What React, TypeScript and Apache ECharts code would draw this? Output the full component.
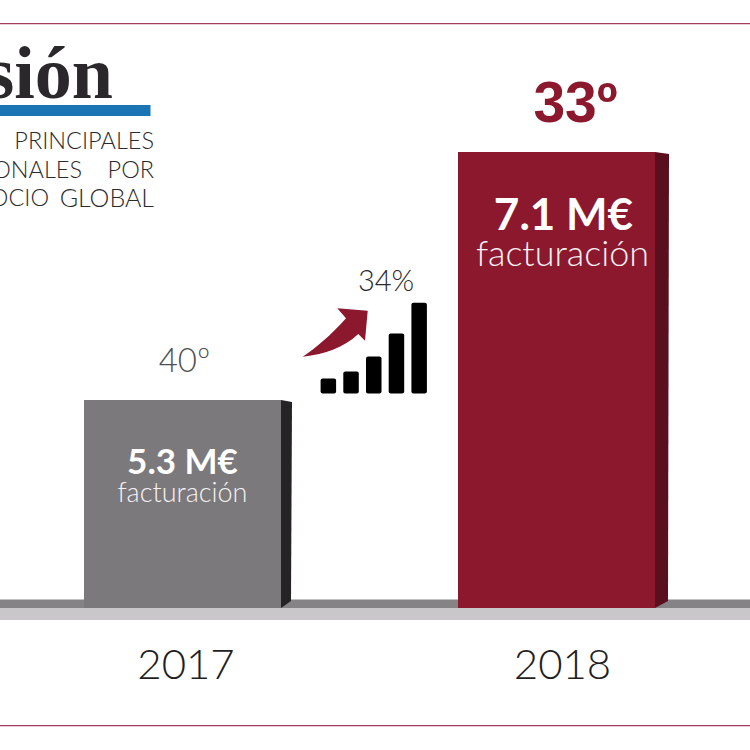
import React, { useEffect, useRef } from "react";
import * as echarts from "echarts";

const years = ["2017", "2018"];
const revenue = [5.3, 7.1];
const revenueLabels = ["5.3 M€", "7.1 M€"];
const captionLabels = ["facturación", "facturación"];
const rankLabels = ["40º", "33º"];
const growthLabel = "34%";
const iconCategories = ["a", "b", "c", "d", "e"];
const iconValues = [15, 22, 37, 60, 91];

const FRONT = ["#7b797c", "#8c182e"];
const SIDE = ["#262326", "#5a0f1e"];
const SIDE_W = [11, 14];
const YEAR_PAD = [7, 12];
const RANK_STYLE = [
  { dx: 2, y: 359, size: 33, weight: 300, color: "#4f4f52", font: "Lato" },
  { dx: 19, y: 102, size: 57, weight: 700, color: "#8c182e", font: "Liberation Sans" },
];
const VALUE_STYLE = [
  { dx: 0, dy: 60, size: 35 },
  { dx: 7, dy: 61, size: 44 },
];
const CAPTION_STYLE = [
  { dx: 0, dy: 92, size: 27 },
  { dx: 6, dy: 100, size: 36 },
];
const ARROW =
  "M367.7 310.7 L337.3 308.3 L346 318.3 C330 336 316 348 302.7 356.7 C326 354 343 348 358.3 334 L365 340.7 Z";

export default function App() {
  const ref = useRef<HTMLDivElement>(null);
  useEffect(() => {
    echarts.graphic.registerShape("growthArrow", echarts.graphic.extendPath(ARROW, {}) as any);
    const chart = echarts.init(ref.current!, null, { renderer: "svg" });
    const txt = (x: number, y: number, text: string, size: number, align: string, color = "#2b2a2c", font = "Lato", weight: number = 300, extra: any = {}) => ({
      type: "text",
      x,
      y,
      silent: true,
      style: { text, fill: color, font: `${weight} ${size}px ${font}`, textAlign: align, textVerticalAlign: "middle", ...extra },
    });
    chart.setOption({
      animation: false,
      backgroundColor: "#ffffff",
      grid: [
        { left: 182.5, width: 374, top: 152, height: 456, outerBoundsMode: "none" },
        { left: 317, width: 113.5, top: 302.7, height: 90.7, outerBoundsMode: "none" },
      ],
      xAxis: [
        {
          type: "category",
          gridIndex: 0,
          boundaryGap: false,
          data: years.map((y, i) => ({ value: y, textStyle: { padding: [0, 0, 0, YEAR_PAD[i]] } })),
          axisLine: { show: false },
          axisTick: { show: false },
          axisLabel: { fontFamily: "Lato", fontWeight: 300, fontSize: 42, color: "#1f1e20", margin: 34, lineHeight: 42 },
        },
        { type: "category", gridIndex: 1, data: iconCategories, show: false },
      ],
      yAxis: [
        { type: "value", gridIndex: 0, min: 3.79, max: 7.1, show: false },
        { type: "value", gridIndex: 1, min: 0, max: 91, show: false },
      ],
      series: [
        {
          type: "bar",
          xAxisIndex: 0,
          yAxisIndex: 0,
          data: revenue.map((v, i) => ({ value: v, itemStyle: { color: FRONT[i] } })),
          barWidth: 197,
          silent: true,
          z: 3,
        },
        {
          type: "custom",
          xAxisIndex: 0,
          yAxisIndex: 0,
          data: revenue.map((v, i) => [i, v]),
          z: 4,
          silent: true,
          clip: false,
          renderItem: (params: any, api: any) => {
            const i = params.dataIndex;
            const p = api.coord([api.value(0), api.value(1)]);
            const base = api.coord([api.value(0), 3.79]);
            const cx = p[0];
            const r = cx + 98.5;
            const w = SIDE_W[i];
            const top = p[1];
            const bottom = base[1];
            const rs = RANK_STYLE[i];
            const vs = VALUE_STYLE[i];
            const cs = CAPTION_STYLE[i];
            const t = (x: number, y: number, text: string, size: number, weight: number, color: string, font: string) => ({
              type: "text",
              x,
              y,
              style: { text, fill: color, font: `${weight} ${size}px ${font}`, textAlign: "center", textVerticalAlign: "middle" },
            });
            return {
              type: "group",
              children: [
                {
                  type: "polygon",
                  shape: { points: [[r, top], [r + w, top + 2], [r + w - 1, bottom - 7], [r, bottom]] },
                  style: { fill: SIDE[i] },
                },
                t(cx + rs.dx, rs.y, rankLabels[i], rs.size, rs.weight, rs.color, rs.font),
                t(cx + vs.dx, top + vs.dy, revenueLabels[i], vs.size, 700, "#ffffff", "Lato"),
                t(cx + cs.dx, top + cs.dy, captionLabels[i], cs.size, 300, "#f6f2f3", "Lato"),
              ],
            };
          },
        },
        {
          type: "bar",
          xAxisIndex: 1,
          yAxisIndex: 1,
          data: iconValues,
          barWidth: 15.5,
          silent: true,
          itemStyle: { color: "#000000", borderRadius: 2 },
        },
      ],
      graphic: [
        { type: "rect", z: 0, shape: { x: 0, y: 23, width: 750, height: 1.2 }, style: { fill: "#a23a5e" } },
        { type: "rect", z: 0, shape: { x: 0, y: 725, width: 750, height: 1.2 }, style: { fill: "#a23a5e" } },
        { type: "rect", z: 0, shape: { x: 0, y: 599.5, width: 750, height: 8.5 }, style: { fill: "#858385" } },
        { type: "rect", z: 0, shape: { x: 0, y: 608, width: 750, height: 12 }, style: { fill: "#c9c7c9" } },
        { type: "rect", z: 0, shape: { x: 0, y: 105, width: 150.5, height: 11 }, style: { fill: "#1b75b5" } },
        {
          type: "text",
          x: 113,
          y: 110,
          style: { text: "sión", fill: "#2a282b", font: "700 74px 'Liberation Serif'", textAlign: "right", textVerticalAlign: "bottom" },
        },
        txt(154, 140, "PRINCIPALES", 23.5, "right"),
        txt(82, 169, "ONALES", 23.5, "right"),
        txt(154, 169, "POR", 23.5, "right"),
        txt(49, 197, "OCIO", 23.5, "right"),
        txt(154, 197, "GLOBAL", 25, "right"),
        txt(386, 279, growthLabel, 29, "center"),
        { type: "growthArrow", style: { fill: "#8c182e" } },
      ],
    });
    return () => chart.dispose();
  }, []);
  return <div ref={ref} style={{ position: "fixed", left: 0, top: 0, width: 750, height: 750 }} />;
}
